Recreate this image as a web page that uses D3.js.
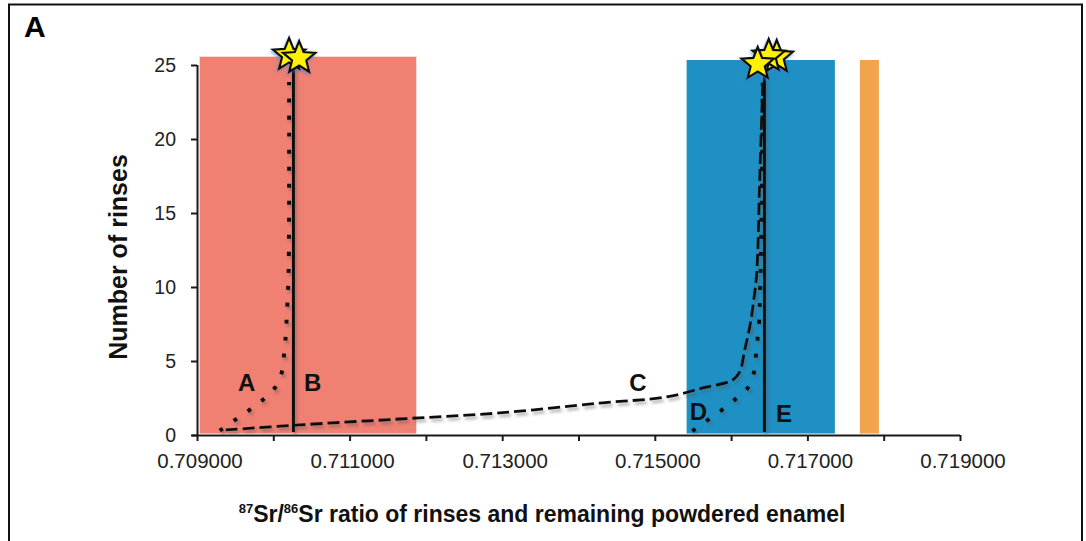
<!DOCTYPE html>
<html><head><meta charset="utf-8">
<script src="https://cdn.jsdelivr.net/npm/d3@7"></script>
<style>body{margin:0;background:#fff}</style>
</head><body><svg id="chart" width="1086" height="541"></svg>
<script>
// ---------- data ----------
const xTickValues = [0.709,0.710,0.711,0.712,0.713,0.714,0.715,0.716,0.717,0.718,0.719];
const xTickLabels = [0.709,0.711,0.713,0.715,0.717,0.719];
const yTickValues = [0,5,10,15,20,25];

const bandX0 = [0.709035, 0.715417, 0.717688];
const bandX1 = [0.711874, 0.717360, 0.717937];
const bandTop = [25.56, 25.34, 25.34];
const bandBottom = [0.1, 0.1, 0.1];
const bandColors = ["#F08072", "#1E90C3", "#F1A44D"];

// A: dotted curve (red range)
const aX = [0.709298,0.709486,0.709669,0.709849,0.710010,0.710106,0.710138,0.710159,0.710181,0.710201,0.710207];
const aY = [0.29,0.97,1.62,2.32,3.11,4.14,5.29,6.42,8.45,11.1,23.85];
// C: dashed curve
const cX = [0.709377,0.710339,0.711651,0.712963,0.714276,0.715155,0.715627,0.716021,0.716113,0.716178,0.716244,0.716297,0.716336,0.716375,0.716415];
const cY = [0.34,0.68,1.08,1.49,2.16,2.57,3.18,3.72,4.26,5.74,7.30,9.12,10.95,17.2,23.8];
// D: dotted curve (blue range)
const dX = [0.715492,0.715676,0.715860,0.716038,0.716209,0.716297,0.716323,0.716345,0.716366,0.716375,0.716402,0.716415];
const dY = [0.27,0.95,1.62,2.34,3.11,4.17,5.29,6.42,7.57,8.65,15.9,23.8];
// B and E: solid vertical lines
const vlineX = [0.710264, 0.716437];
const vlineY0 = [0.2, 0.2];
const vlineY1 = [25, 25];
// stars (final values), drawn back to front
const starX = [0.710207, 0.710339, 0.716598, 0.716493, 0.716349];
const starY = [25.68, 25.47, 25.54, 25.61, 25.07];
// curve letters
const letterText = ["A","B","C","D","E"];
const letterX = [0.709650, 0.710516, 0.714778, 0.715572, 0.716694];
const letterY = [2.97, 2.97, 2.97, 1.01, 0.9];

// ---------- layout ----------
const svg = d3.select("#chart");
const x = d3.scaleLinear().domain([0.709, 0.719]).range([197, 960]);
const y = d3.scaleLinear().domain([0, 25]).range([435, 65]);

const defs = svg.append("defs");
const sh = defs.append("filter").attr("id","shadow").attr("x","-20%").attr("y","-20%").attr("width","140%").attr("height","140%");
sh.append("feDropShadow").attr("dx",2).attr("dy",3).attr("stdDeviation",1.6)
  .attr("flood-color","#555").attr("flood-opacity",0.45);
const sh2 = defs.append("filter").attr("id","starshadow").attr("x","-40%").attr("y","-40%").attr("width","180%").attr("height","180%");
sh2.append("feDropShadow").attr("dx",-1).attr("dy",2).attr("stdDeviation",1.5)
  .attr("flood-color","#4a7fc0").attr("flood-opacity",0.6);

// frame
svg.append("rect").attr("x",9).attr("y",4.5).attr("width",1073).attr("height",560)
  .attr("fill","none").attr("stroke","#111").attr("stroke-width",2);

// panel letter
svg.append("text").attr("x",24).attr("y",37).text("A")
  .attr("font-family","Liberation Sans, Arial, sans-serif").attr("font-weight","bold").attr("font-size",30);

// bands
svg.append("g").selectAll("rect").data(bandX0).join("rect")
  .attr("x",(d,i)=>x(bandX0[i]))
  .attr("y",(d,i)=>y(bandTop[i]))
  .attr("width",(d,i)=>x(bandX1[i])-x(bandX0[i]))
  .attr("height",(d,i)=>y(bandBottom[i])-y(bandTop[i]))
  .attr("fill",(d,i)=>bandColors[i]);

// axes
const xAxis = svg.append("g").attr("transform","translate(0,435)")
  .call(d3.axisBottom(x).tickValues(xTickValues).tickSize(6).tickFormat(""));
xAxis.select(".domain").attr("d",`M${x(0.709)-5},0.5H${x(0.719)}`);
xAxis.selectAll("path,line").attr("stroke","#1a1a1a").attr("stroke-width",2);
const xLab = svg.append("g").attr("transform","translate(0,435)");
xLab.selectAll("text").data(xTickLabels).join("text")
  .attr("x",d=>x(d)+3).attr("y",33).attr("text-anchor","middle")
  .attr("font-family","Liberation Sans, Arial, sans-serif").attr("font-size",20.5).attr("fill","#222")
  .text(d3.format(".6f"));

const yAxis = svg.append("g").attr("transform","translate(197,0)")
  .call(d3.axisLeft(y).tickValues(yTickValues).tickSize(6).tickPadding(15).tickFormat(d3.format("d")));
yAxis.select(".domain").attr("d",`M0.5,${y(25)}V${y(0)}`);
yAxis.selectAll("path,line").attr("stroke","#1a1a1a").attr("stroke-width",2);
yAxis.selectAll("text").attr("font-family","Liberation Sans, Arial, sans-serif").attr("font-size",19.5).attr("fill","#222");

// axis titles
const xt = svg.append("text").attr("x",542).attr("y",522).attr("text-anchor","middle")
  .attr("font-family","Liberation Sans, Arial, sans-serif").attr("font-weight","bold").attr("font-size",23).attr("fill","#111");
xt.append("tspan").attr("font-size",13).attr("dy",-9).text("87");
xt.append("tspan").attr("dy",9).text("Sr/");
xt.append("tspan").attr("font-size",13).attr("dy",-9).text("86");
xt.append("tspan").attr("dy",9).text("Sr ratio of rinses and remaining powdered enamel");

svg.append("text").attr("transform","translate(127,257) rotate(-90)").attr("text-anchor","middle")
  .attr("font-family","Liberation Sans, Arial, sans-serif").attr("font-weight","bold").attr("font-size",25).attr("fill","#111")
  .text("Number of rinses");

// curves
const line = d3.line().x(d=>x(d[0])).y(d=>y(d[1])).curve(d3.curveCatmullRom.alpha(0.5));
const zip = (xs,ys)=>xs.map((v,i)=>[v,ys[i]]);
const lines = svg.append("g").attr("filter","url(#shadow)");
lines.append("path").attr("d",line(zip(cX,cY))).attr("fill","none").attr("stroke","#111")
  .attr("stroke-width",2.8).attr("stroke-dasharray","12,5");
lines.append("path").attr("d",line(zip(aX,aY))).attr("fill","none").attr("stroke","#111")
  .attr("stroke-width",4).attr("stroke-dasharray","4,13");
lines.append("path").attr("d",line(zip(dX,dY))).attr("fill","none").attr("stroke","#111")
  .attr("stroke-width",4).attr("stroke-dasharray","4,13");
lines.selectAll("line.v").data(vlineX).join("line").attr("class","v")
  .attr("x1",d=>x(d)).attr("x2",d=>x(d))
  .attr("y1",(d,i)=>y(vlineY0[i])).attr("y2",(d,i)=>y(vlineY1[i]))
  .attr("stroke","#111").attr("stroke-width",3);

// stars
function starPath(R, r){
  const pts=[];
  for(let k=0;k<10;k++){
    const rad = k%2===0?R:r;
    const a = -Math.PI/2 + k*Math.PI/5;
    pts.push([rad*Math.cos(a), rad*Math.sin(a)]);
  }
  return "M"+pts.map(p=>p[0].toFixed(2)+","+p[1].toFixed(2)).join("L")+"Z";
}
svg.append("g").attr("filter","url(#starshadow)").selectAll("path").data(starX).join("path")
  .attr("d",starPath(17,7.5))
  .attr("transform",(d,i)=>`translate(${x(starX[i])},${y(starY[i])})`)
  .attr("fill","#FFF200").attr("stroke","#111").attr("stroke-width",2.2).attr("stroke-linejoin","miter");

// letters
svg.append("g").selectAll("text").data(letterText).join("text")
  .attr("x",(d,i)=>x(letterX[i])).attr("y",(d,i)=>y(letterY[i]))
  .attr("text-anchor","middle")
  .attr("font-family","Liberation Sans, Arial, sans-serif").attr("font-weight","bold").attr("font-size",24).attr("fill","#111")
  .text(d=>d);
</script></body></html>
